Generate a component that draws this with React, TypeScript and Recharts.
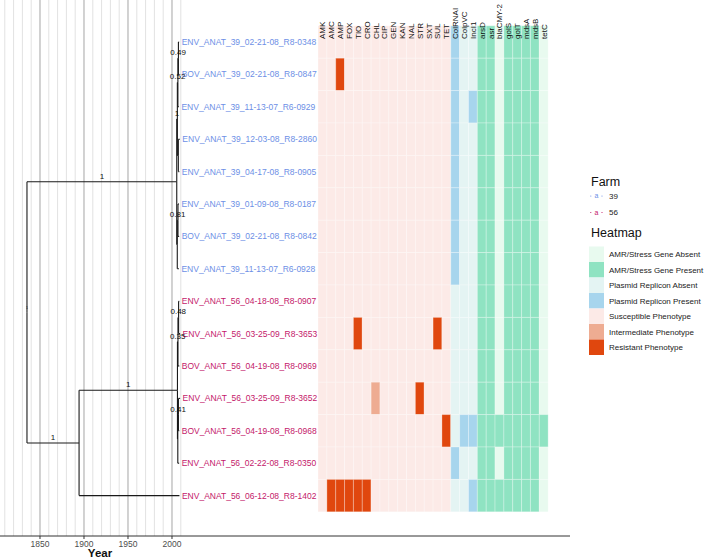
import React from 'react';
import { ComposedChart, XAxis, YAxis, ReferenceLine, ReferenceArea, Scatter } from 'recharts';

const FONT = '"Liberation Sans", Arial, Helvetica, sans-serif';

// tips, top to bottom
const tipLabels = [
  'ENV_ANAT_39_02-21-08_R8-0348',
  'BOV_ANAT_39_02-21-08_R8-0847',
  'ENV_ANAT_39_11-13-07_R6-0929',
  'ENV_ANAT_39_12-03-08_R8-2860',
  'ENV_ANAT_39_04-17-08_R8-0905',
  'ENV_ANAT_39_01-09-08_R8-0187',
  'BOV_ANAT_39_02-21-08_R8-0842',
  'ENV_ANAT_39_11-13-07_R6-0928',
  'ENV_ANAT_56_04-18-08_R8-0907',
  'ENV_ANAT_56_03-25-09_R8-3653',
  'BOV_ANAT_56_04-19-08_R8-0969',
  'ENV_ANAT_56_03-25-09_R8-3652',
  'BOV_ANAT_56_04-19-08_R8-0968',
  'ENV_ANAT_56_02-22-08_R8-0350',
  'ENV_ANAT_56_06-12-08_R8-1402',
];
const tipFarm = [39, 39, 39, 39, 39, 39, 39, 39, 56, 56, 56, 56, 56, 56, 56];
const tipYears = [2008.14, 2008.14, 2007.87, 2008.92, 2008.29, 2008.02, 2008.14, 2007.87, 2008.29, 2009.23, 2008.3, 2009.23, 2008.3, 2008.14, 2008.45];

// internal nodes (numbers in kids = tip rows)
const nodeNames = ['root', 'n39', 'a', 'a2', 'a1', 'c', 'b', 'b1', 'n56', 'm', 'm1', 'm1a', 'm2', 'm2a'];
const nodeYears = [1835.2, 2005.4, 2006.1, 2006.7, 2007.3, 2007.2, 2006.0, 2006.8, 1894.4, 2006.2, 2006.8, 2007.5, 2006.6, 2007.3];
const nodeKids: (string | number)[][] = [
  ['n39', 'n56'], ['a', 'b'], ['a2', 'c'], ['a1', 2], [0, 1], [3, 4], ['b1', 7], [5, 6],
  ['m', 14], ['m1', 'm2'], ['m1a', 10], [8, 9], ['m2a', 13], [11, 12],
];
const nodeSupport = ['1', '1', '1', '0.52', '0.49', '', '', '0.81', '1', '1', '0.35', '0.48', '', '0.41'];

// heatmap
const phenoCols = ['AMK', 'AMC', 'AMP', 'FOX', 'TIO', 'CRO', 'CHL', 'CIP', 'GEN', 'KAN', 'NAL', 'STR', 'SXT', 'SUL', 'TET'];
const plasmidCols = ['ColRNAI', 'ColpVC', 'IncI1'];
const geneCols = ['arsD', 'asr', 'blaCMY-2', 'golS', 'golT', 'mdsA', 'mdsB', 'tetC'];

const phenotypes = [
  'SSSSSSSSSSSSSSS',
  'SSRSSSSSSSSSSSS',
  'SSSSSSSSSSSSSSS',
  'SSSSSSSSSSSSSSS',
  'SSSSSSSSSSSSSSS',
  'SSSSSSSSSSSSSSS',
  'SSSSSSSSSSSSSSS',
  'SSSSSSSSSSSSSSS',
  'SSSSSSSSSSSSSSS',
  'SSSSRSSSSSSSSRS',
  'SSSSSSSSSSSSSSS',
  'SSSSSSISSSSRSSS',
  'SSSSSSSSSSSSSSR',
  'SSSSSSSSSSSSSSS',
  'SRRRRRSSSSSSSSS',
];
const plasmids = ['100', '100', '101', '100', '100', '100', '100', '100', '000', '000', '000', '000', '011', '100', '001'];
const genes = [
  '11011110', '11011110', '11011110', '11011110', '11011110', '11011110', '11011110', '11011110',
  '11011110', '11011110', '11011110', '11011110', '11111111', '11011110', '11111110',
];

const gridYears = [1810, 1820, 1830, 1840, 1850, 1860, 1870, 1880, 1890, 1900, 1910, 1920, 1930, 1940, 1950, 1960, 1970, 1980, 1990, 2000, 2010];
const majorYears = [1850, 1900, 1950, 2000];

const legendItems = [
  'AMR/Stress Gene Absent',
  'AMR/Stress Gene Present',
  'Plasmid Replicon Absent',
  'Plasmid Replicon Present',
  'Susceptible Phenotype',
  'Intermediate Phenotype',
  'Resistant Phenotype',
];

const COLORS = {
  S: '#FCEAE7',
  I: '#EEAC92',
  R: '#E0470E',
  plasAbs: '#E4F4F3',
  plasPres: '#A7D5ED',
  geneAbs: '#E8FAEF',
  genePres: '#8FE3C2',
};
const legendColors = [COLORS.geneAbs, COLORS.genePres, COLORS.plasAbs, COLORS.plasPres, COLORS.S, COLORS.I, COLORS.R];
const farmColor = (f: number) => (f === 39 ? '#6D8FE6' : '#C4186A');

const refY = (ref: string | number): number =>
  typeof ref === 'number' ? ref : nodeY(nodeNames.indexOf(ref));
function nodeY(i: number): number {
  const k = nodeKids[i];
  return (refY(k[0]) + refY(k[k.length - 1])) / 2;
}
const refYear = (ref: string | number) =>
  typeof ref === 'number' ? tipYears[ref] : nodeYears[nodeNames.indexOf(ref)];

const segments: { x: number; y: number }[][] = [];
nodeNames.forEach((_, i) => {
  const px = nodeYears[i];
  const py = nodeY(i);
  nodeKids[i].forEach((kid) => {
    const ky = refY(kid);
    segments.push([{ x: px, y: py }, { x: px, y: ky }]);
    segments.push([{ x: px, y: ky }, { x: refYear(kid), y: ky }]);
  });
});

const supportPts = nodeNames
  .map((name, i) => {
    if (!nodeSupport[i]) return null;
    const p = nodeKids.findIndex((k) => k.includes(name));
    if (p < 0) return { x: nodeYears[i], y: nodeY(i), text: nodeSupport[i], tiny: true };
    return { x: (nodeYears[p] + nodeYears[i]) / 2, y: nodeY(i), text: nodeSupport[i], tiny: false };
  })
  .filter(Boolean) as { x: number; y: number; text: string; tiny: boolean }[];

const tipPts = tipLabels.map((name, i) => ({ x: tipYears[i], y: i, name, farm: tipFarm[i] }));
const allCols = [...phenoCols, ...plasmidCols, ...geneCols];
const headerPts = allCols.map((name, c) => ({ x: c + 0.5, y: 0, name }));

function cellFill(r: number, c: number) {
  if (c < phenoCols.length) return COLORS[phenotypes[r][c] as 'S' | 'I' | 'R'];
  const pc = c - phenoCols.length;
  if (pc < plasmidCols.length) return plasmids[r][pc] === '1' ? COLORS.plasPres : COLORS.plasAbs;
  const gc = pc - plasmidCols.length;
  return genes[r][gc] === '1' ? COLORS.genePres : COLORS.geneAbs;
}

const TipText = (props: any) => (
  <text x={props.cx + 2.5} y={props.cy} dy="0.35em" fontSize={8.5} fontFamily={FONT} fill={farmColor(props.payload.farm)}>
    {props.payload.name}
  </text>
);
const SupportText = (props: any) => (
  <text
    x={props.cx}
    y={props.cy - 3}
    textAnchor="middle"
    fontSize={props.payload.tiny ? 3.5 : 8}
    fontFamily={FONT}
    fill="#111"
  >
    {props.payload.text}
  </text>
);
const HeaderText = (props: any) => (
  <text
    x={props.cx + 3}
    y={props.cy - 3}
    transform={`rotate(-90 ${props.cx + 3} ${props.cy - 3})`}
    fontSize={8}
    fontFamily={FONT}
    fill="#111"
  >
    {props.payload.name}
  </text>
);

export default function App() {
  return (
    <div style={{ position: 'absolute', left: 0, top: 0, width: 708, height: 559, background: '#fff', fontFamily: FONT }}>
      <ComposedChart width={708} height={559} margin={{ top: 0, right: 138, bottom: 0, left: 0 }}>
        <XAxis xAxisId="hm" type="number" dataKey="x" domain={[-35.93, 28.47]} allowDataOverflow orientation="top" height={0} hide />
        <XAxis
          xAxisId="yr"
          type="number"
          dataKey="x"
          domain={[1804.55, 2452.27]}
          allowDataOverflow
          ticks={majorYears}
          height={23}
          axisLine={{ stroke: '#333' }}
          tickLine={{ stroke: '#333' }}
          tickSize={3}
          tick={{ fontSize: 8.5, fill: '#4D4D4D', fontFamily: FONT }}
        />
        <YAxis type="number" dataKey="y" domain={[-1.296, 15.247]} reversed allowDataOverflow hide />

        {gridYears.map((yr) => (
          <ReferenceLine
            key={`g${yr}`}
            xAxisId="yr"
            x={yr}
            stroke={majorYears.includes(yr) ? '#A5A5A5' : '#E2E2E2'}
            strokeWidth={1}
          />
        ))}

        {tipLabels.map((_, r) =>
          allCols.map((col, c) => (
            <ReferenceArea
              key={`c${r}-${col}`}
              xAxisId="hm"
              x1={c}
              x2={c + 1}
              y1={r - 0.5}
              y2={r + 0.5}
              fill={cellFill(r, c)}
              fillOpacity={1}
              stroke="#ffffff"
              strokeOpacity={0.55}
              strokeWidth={0.5}
            />
          ))
        )}

        {segments.map((seg, i) => (
          <ReferenceLine key={`s${i}`} xAxisId="yr" segment={seg} stroke="#1a1a1a" strokeWidth={1.1} />
        ))}

        <Scatter xAxisId="yr" data={tipPts} shape={TipText} isAnimationActive={false} />
        <Scatter xAxisId="yr" data={supportPts} shape={SupportText} isAnimationActive={false} />
        <Scatter xAxisId="hm" data={headerPts} shape={HeaderText} isAnimationActive={false} />
      </ComposedChart>

      <svg width={708} height={559} style={{ position: 'absolute', left: 0, top: 0, pointerEvents: 'none' }}>
        <text x={100} y={557} textAnchor="middle" fontSize={11.5} fontWeight="bold" fontFamily={FONT} fill="#111">
          Year
        </text>
        <text x={591} y={185.5} fontSize={12.5} fontFamily={FONT} fill="#111">
          Farm
        </text>
        {[39, 56].map((f, i) => (
          <g key={f}>
            <circle cx={590.8} cy={196 + i * 16.5} r={0.6} fill={farmColor(f)} />
            <circle cx={602} cy={196 + i * 16.5} r={0.6} fill={farmColor(f)} />
            <text x={596.4} y={196 + i * 16.5} dy="0.35em" textAnchor="middle" fontSize={7} fontFamily={FONT} fill={farmColor(f)}>
              a
            </text>
            <text x={609} y={196 + i * 16.5} dy="0.35em" fontSize={8} fontFamily={FONT} fill="#222">
              {f}
            </text>
          </g>
        ))}
        <text x={591} y={236.5} fontSize={12.5} fontFamily={FONT} fill="#111">
          Heatmap
        </text>
        {legendItems.map((item, i) => (
          <g key={item}>
            <rect x={589} y={246.5 + i * 15.5} width={15} height={15.5} fill={legendColors[i]} />
            <text x={609} y={254.25 + i * 15.5} dy="0.35em" fontSize={8} fontFamily={FONT} fill="#222">
              {item}
            </text>
          </g>
        ))}
      </svg>
    </div>
  );
}
